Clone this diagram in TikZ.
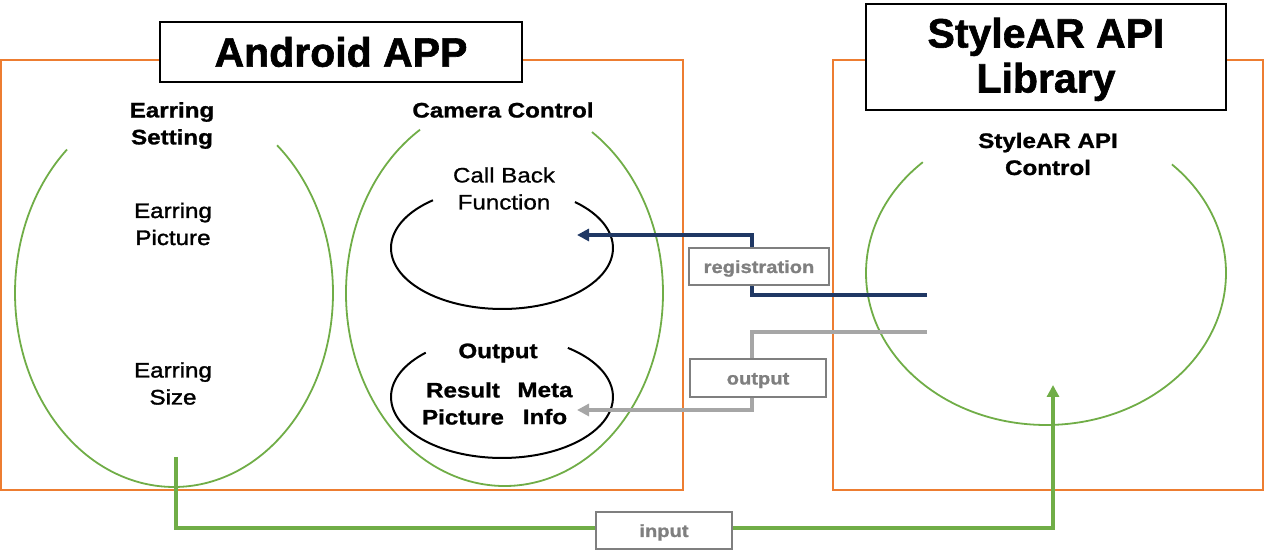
\documentclass[tikz,border=0pt]{standalone}
\usepackage{fontspec}
\setmainfont{Liberation Sans}
\newfontfamily\stfont[FakeStretch=1.15,FakeBold=0.8]{Liberation Sans}
\newfontfamily\stheavy[FakeStretch=1.15,FakeBold=1.2]{Liberation Sans Bold}
\newfontfamily\stmed[FakeStretch=1.15,FakeBold=1.6]{Liberation Sans}
\newfontfamily\titlefont[FakeBold=1.5]{Liberation Sans Bold}
\usetikzlibrary{arrows.meta}
\definecolor{orng}{HTML}{ED7D31}
\definecolor{grn}{HTML}{70AD47}
\definecolor{navy}{HTML}{203864}
\definecolor{lgray}{HTML}{A6A6A6}
\definecolor{dgray}{HTML}{7F7F7F}
\tikzset{
  panel/.style={draw=orng, line width=2.2pt},
  titlebox/.style={draw=black, line width=2.5pt, fill=white, inner sep=0pt, align=center,
    font=\titlefont\fontsize{41}{45}\selectfont},
  grnarc/.style={draw=grn, line width=1.8pt},
  blkarc/.style={draw=black, line width=2pt},
  headtxt/.style={align=center, font=\stheavy\fontsize{21}{27}\selectfont},
  medtxt/.style={align=center, font=\stmed\fontsize{21}{27}\selectfont},
  bodytxt/.style={align=center, font=\stfont\fontsize{21}{27}\selectfont},
  labelbox/.style={draw=dgray, line width=2pt, fill=white, text=dgray, inner sep=0pt,
    text height=13pt, text depth=0pt,
    font=\stheavy\fontsize{17.5}{20}\selectfont},
  conn/.style={line width=3.5pt, -{Triangle[length=12pt,width=12pt]}},
}
\begin{document}
\begin{tikzpicture}[x=1pt,y=1pt]
\useasboundingbox (0,0) rectangle (1264,553);
% panels
\draw[panel] (1,63) rectangle (683,493);
\draw[panel] (833,63) rectangle (1263,493);
\node[titlebox, minimum width=362pt, minimum height=60pt] (android) at (341,501) {Android APP};
\node[titlebox, minimum width=360pt, minimum height=106pt] (stylear) at (1046,496) {\begin{tabular}{@{}c@{}}\rule{0pt}{39.5pt}StyleAR API\\Library\end{tabular}};
% green ellipses
\draw[grnarc] (174,260) ++(132.3:159 and 194) arc[start angle=132.3, end angle=409.6, x radius=159, y radius=194];
\draw[grnarc] (504.5,260) ++(122.2:158.5 and 193) arc[start angle=122.2, end angle=416.5, x radius=158.5, y radius=193];
\draw[grnarc] (1046,280) ++(133.2:180 and 152) arc[start angle=133.2, end angle=405.6, x radius=180, y radius=152];
% black ellipses
\draw[blkarc] (502,305) ++(128.5:111 and 61) arc[start angle=128.5, end angle=408.9, x radius=111, y radius=61];
\draw[blkarc] (502,156) ++(133.4:111 and 61) arc[start angle=133.4, end angle=413.6, x radius=111, y radius=61];
% texts
\node[headtxt] (setting) at (172,427.5) {Earring\\Setting};
\node[headtxt] (camera) at (503,443) {Camera Control};
\node[medtxt] (picture) at (173,329) {Earring\\Picture};
\node[medtxt] (size) at (173,169.5) {Earring\\Size};
\node[bodytxt] (callback) at (504,364.5) {Call Back\\Function};
\node[headtxt] (output) at (498,200) {Output};
\node[headtxt] (result) at (463,149.5) {Result\\Picture};
\node[headtxt] (meta) at (545,149.5) {Meta\\Info};
\node[headtxt] (apictrl) at (1048,399) {StyleAR API\\Control};
% connector points
\coordinate (regsrc) at (927,258);
\coordinate (regb1) at (752,258);
\coordinate (regb2) at (752,318);
\coordinate (regdst) at (577,318);
\coordinate (outsrc) at (927,221);
\coordinate (outb1) at (752,221);
\coordinate (outb2) at (752,143);
\coordinate (outdst) at (577,143);
\coordinate (insrc) at (176,96);
\coordinate (inb1) at (176,25);
\coordinate (inb2) at (1053,25);
\coordinate (indst) at (1053,168);
% connectors
\draw[conn, navy] (regsrc) -- (regb1) -- (regb2) -- (regdst);
\draw[conn, lgray] (outsrc) -- (outb1) -- (outb2) -- (outdst);
\draw[conn, grn] (insrc) -- (inb1) -- (inb2) -- (indst);
% labels
\node[labelbox, minimum width=140pt, minimum height=37pt] (reglbl) at (759,286.5) {registration};
\node[labelbox, minimum width=136pt, minimum height=38pt] (outlbl) at (758,175) {output};
\node[labelbox, minimum width=136pt, minimum height=37pt] (inlbl) at (664,22.5) {input};
\end{tikzpicture}
\end{document}
